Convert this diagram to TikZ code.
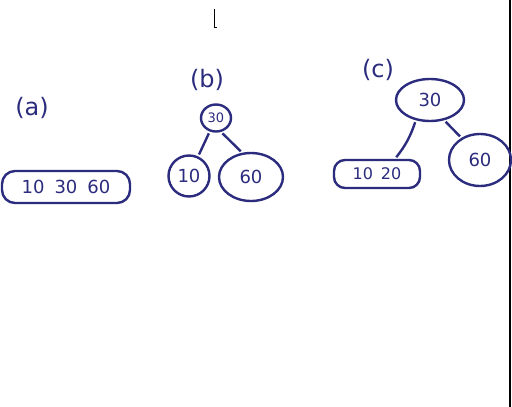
\documentclass[tikz,border=0pt]{standalone}
\usepackage{fontspec}
\setmainfont{DejaVu Sans}
\usetikzlibrary{shapes.geometric}
\definecolor{pen}{HTML}{2B2C7E}
\begin{document}
\begin{tikzpicture}[x=1pt,y=-1pt,
  ink/.style={draw=pen,line width=2.4pt},
  lbl/.style={text=pen,font=\fontsize{24}{26}\selectfont},
  circ/.style={ink,ellipse,inner sep=0pt,text=pen,font=\fontsize{18}{20}\selectfont},
  boxnode/.style={ink,rounded corners=13pt,inner sep=0pt,text=pen,font=\fontsize{18}{20}\selectfont},
  edge/.style={draw=pen,line width=2.4pt,shorten <=2pt,shorten >=2pt}]
\useasboundingbox (0,0) rectangle (512,407);
\fill[white] (0,0) rectangle (512,407);
% stray mark and right border
\draw[black,line width=0.8pt] (214,9) -- (214,27) -- (217,27);
\draw[black,line width=1.2pt] (510,0) -- (510,407);
% (a)
\node[lbl] (la) at (32,108) {(a)};
\node[boxnode,minimum width=128pt,minimum height=32pt] (A) at (66,187) {10\hspace{10pt}30\hspace{10pt}60};
% (b)
\node[lbl] (lb) at (207,80) {(b)};
\node[circ,minimum width=30pt,minimum height=27pt,font=\fontsize{13}{14}\selectfont] (b30) at (216,118) {30};
\node[circ,minimum width=41pt,minimum height=41pt] (b10) at (189,176) {10};
\node[circ,minimum width=64pt,minimum height=48pt] (b60) at (251,177) {60};
\draw[edge] (b30) -- (b10);
\draw[edge] (b30.-70) -- (b60.110);
% (c)
\node[lbl] (lc) at (378,70) {(c)};
\node[circ,minimum width=68pt,minimum height=42pt] (c30) at (430,100) {30};
\node[boxnode,rounded corners=11pt,minimum width=86pt,minimum height=28pt,font=\fontsize{16}{18}\selectfont] (c10) at (377,174) {10\hspace{8pt}20};
\node[circ,minimum width=62pt,minimum height=52pt] (c60) at (480,160) {60};
\draw[edge] (c30.-125) to[bend left=10] ([xshift=18pt]c10.north);
\draw[edge] (c30.-55) -- (c60.130);
\end{tikzpicture}
\end{document}
